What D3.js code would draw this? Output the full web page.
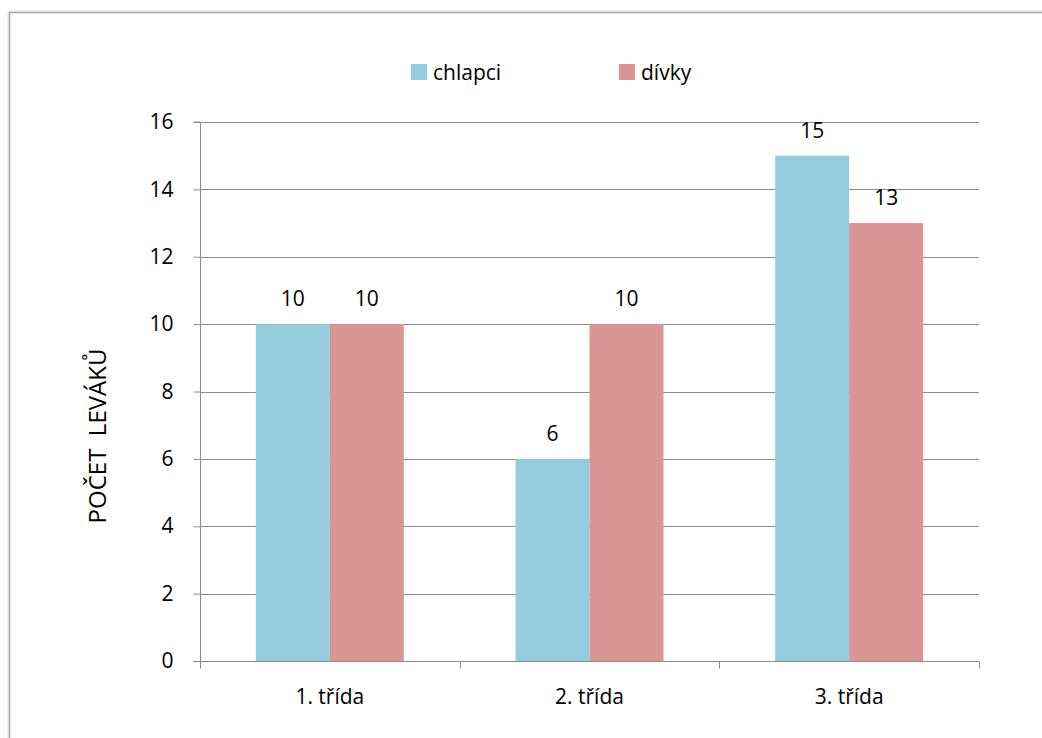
<!DOCTYPE html>
<html><head><meta charset="utf-8">
<script src="https://cdn.jsdelivr.net/npm/d3@7"></script>
<style>body{margin:0;background:#fff}svg{display:block}text{font-family:"Open Sans",sans-serif;fill:#000}</style>
</head><body>
<svg id="c" width="1042" height="738"></svg>
<script>
const categories = ["1. třída", "2. třída", "3. třída"];
const seriesNames = ["chlapci", "dívky"];
const chlapci = [10, 6, 15];
const divky = [10, 10, 13];
const yTicks = [0, 2, 4, 6, 8, 10, 12, 14, 16];
const colors = ["#93CDDD", "#D99694"];
const FS = 21;

const svg = d3.select("#c");
// frame with slight shadow
svg.append("rect").attr("x", 8).attr("y", 11).attr("width", 1100).attr("height", 800)
  .attr("fill", "none").attr("stroke", "#e4e4e4").attr("stroke-width", 1);
svg.append("rect").attr("x", 9.5).attr("y", 12.5).attr("width", 1100).attr("height", 800)
  .attr("fill", "none").attr("stroke", "#a3a3a3").attr("stroke-width", 1.5);

const x0 = d3.scaleBand().domain(categories).range([200, 979]).paddingInner(0).paddingOuter(0);
const x1 = d3.scaleBand().domain(seriesNames).range([0, x0.bandwidth()]).paddingInner(0).paddingOuter(0.755);
const y = d3.scaleLinear().domain([0, 16]).range([661, 122]);

// gridlines
svg.append("g").selectAll("line").data(yTicks.filter(d => d > 0)).join("line")
  .attr("x1", 200).attr("x2", 979)
  .attr("y1", d => Math.round(y(d)) + 0.5).attr("y2", d => Math.round(y(d)) + 0.5)
  .attr("stroke", "#8c8c8c").attr("stroke-width", 1);

// bars
const data = categories.map((c, i) => ({c, vals: [chlapci[i], divky[i]]}));
const groups = svg.append("g").selectAll("g").data(data).join("g")
  .attr("transform", d => `translate(${x0(d.c)},0)`);
groups.selectAll("rect").data(d => d.vals.map((v, j) => ({s: seriesNames[j], v, j}))).join("rect")
  .attr("x", d => x1(d.s)).attr("width", x1.bandwidth())
  .attr("y", d => y(d.v)).attr("height", d => y(0) - y(d.v))
  .attr("fill", d => colors[d.j]);
groups.selectAll("text.val").data(d => d.vals.map((v, j) => ({s: seriesNames[j], v, j}))).join("text")
  .attr("class", "val")
  .attr("x", d => x1(d.s) + x1.bandwidth() / 2).attr("y", d => y(d.v) - 18)
  .attr("text-anchor", "middle").attr("font-size", FS).text(d => d.v);

// y axis
const yAxis = d3.axisLeft(y).tickValues(yTicks).tickSize(7).tickPadding(20);
const gy = svg.append("g").attr("transform", "translate(200.5,0)").call(yAxis);
gy.select(".domain").attr("stroke", "#8c8c8c").attr("d", `M-7,${y(16)}H0V${y(0)}`);
gy.selectAll(".tick line").attr("stroke", "#8c8c8c");
gy.selectAll(".tick text").attr("font-size", FS).attr("font-family", "'Open Sans',sans-serif").attr("fill", "#000");

// x axis
const gx = svg.append("g").attr("transform", "translate(0,661.5)");
gx.append("line").attr("x1", 193).attr("x2", 979).attr("stroke", "#8c8c8c");
const xTickPos = categories.map(c => x0(c)).concat([x0(categories[categories.length - 1]) + x0.bandwidth()]);
gx.selectAll("line.t").data(xTickPos).join("line").attr("class", "t")
  .attr("x1", d => Math.round(d) + 0.5).attr("x2", d => Math.round(d) + 0.5).attr("y1", 0).attr("y2", 7)
  .attr("stroke", "#8c8c8c");
gx.selectAll("text").data(categories).join("text")
  .attr("x", d => x0(d) + x0.bandwidth() / 2).attr("y", 42)
  .attr("text-anchor", "middle").attr("font-size", FS).text(d => d);

// y axis title
svg.append("text").attr("transform", "translate(106,436) rotate(-90)")
  .attr("text-anchor", "middle").attr("font-size", 24)
  .style("white-space", "pre").text("POČET  LEVÁKŮ");

// legend
const legX = [411, 619];
const leg = svg.append("g").selectAll("g").data(seriesNames).join("g")
  .attr("transform", (d, i) => `translate(${legX[i]},64)`);
leg.append("rect").attr("width", 16).attr("height", 16).attr("fill", (d, i) => colors[i]);
leg.append("text").attr("x", 22).attr("y", 16).attr("font-size", FS).text(d => d);
</script>
</body></html>
